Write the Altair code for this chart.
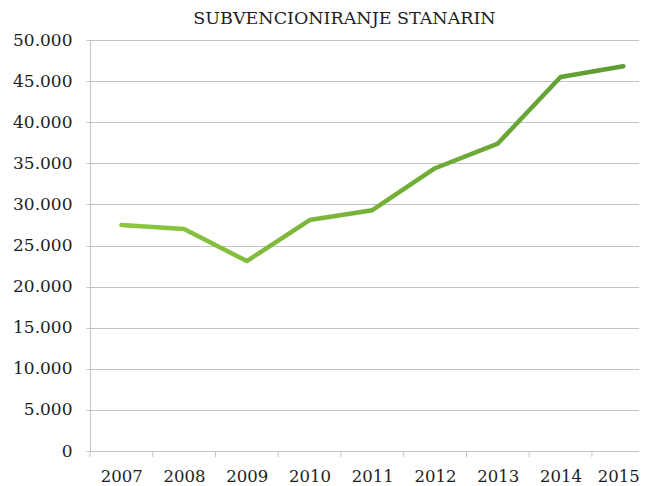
import altair as alt
import pandas as pd

years = [2007, 2008, 2009, 2010, 2011, 2012, 2013, 2014, 2015]
values = [27500, 27000, 23100, 28100, 29300, 34400, 37400, 45500, 46800]
y_ticks = [0, 5000, 10000, 15000, 20000, 25000, 30000, 35000, 40000, 45000, 50000]
band_edges = [2006.5, 2007.5, 2008.5, 2009.5, 2010.5, 2011.5, 2012.5, 2013.5, 2014.5]
title_text = "SUBVENCIONIRANJE STANARIN"

df = pd.DataFrame({"year": years, "value": values})
edges_df = pd.DataFrame({"edge": band_edges})

FONT = "DejaVu Serif"
GRAY = "#C4C4C4"
W, H = 549, 411
xscale = alt.Scale(domain=[2006.5, 2006.5 + W / 62.74], nice=False, zero=False)

line = alt.Chart(df).mark_line(
    strokeWidth=4.5,
    strokeCap="round",
    strokeJoin="round",
    stroke=alt.Gradient(
        gradient="linear",
        stops=[alt.GradientStop(color="#8DC73F", offset=0),
               alt.GradientStop(color="#5E9C32", offset=1)],
        x1=0, x2=1, y1=0, y2=0,
    ),
).encode(
    x=alt.X("year:Q", scale=xscale,
            axis=alt.Axis(
                title=None,
                values=years,
                format="d",
                ticks=False,
                domainColor=GRAY,
                labelPadding=17,
                labelFlush=False,
                labelOverlap=False,
                labelOffset={"condition": {"test": "datum.value == 2015", "value": -5}, "value": 0},
                grid=False,
                labelFont=FONT,
                labelFontSize=16.5,
                labelColor="#1E1E1E",
            )),
    y=alt.Y("value:Q",
            scale=alt.Scale(domain=[0, 50000], nice=False),
            axis=alt.Axis(
                title=None,
                values=y_ticks,
                labelExpr="replace(format(datum.value, ','), ',', '.')",
                tickSize=4,
                tickColor=GRAY,
                domainColor=GRAY,
                gridColor=GRAY,
                labelPadding=14,
                labelFont=FONT,
                labelFontSize=17,
                labelColor="#1E1E1E",
            )),
)

ticks = alt.Chart(edges_df).mark_rule(color=GRAY, strokeWidth=1).encode(
    x=alt.X("edge:Q", scale=xscale),
    y=alt.value(H),
    y2=alt.value(H + 6),
)

chart = alt.layer(ticks, line).properties(
    width=W,
    height=H,
    title=alt.TitleParams(
        text=title_text,
        font=FONT,
        fontSize=17.5,
        fontWeight="normal",
        color="#1E1E1E",
        anchor="middle",
        dx=-20,
        offset=4,
    ),
    autosize=alt.AutoSizeParams(type="none"),
    padding={"left": 82, "top": 32, "right": 0, "bottom": 36},
).configure_view(stroke=None)

chart.save("out.html", embed_options={"renderer": "svg", "actions": False})
